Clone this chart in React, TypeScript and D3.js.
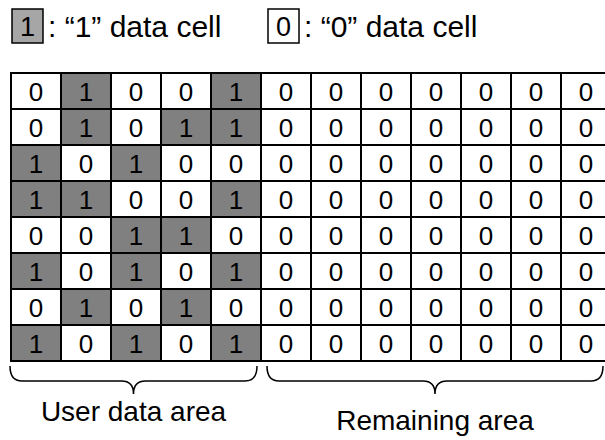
import React from "react";
import * as d3 from "d3";

const userGrid: number[][] = [
  [0, 1, 0, 0, 1],
  [0, 1, 0, 1, 1],
  [1, 0, 1, 0, 0],
  [1, 1, 0, 0, 1],
  [0, 0, 1, 1, 0],
  [1, 0, 1, 0, 1],
  [0, 1, 0, 1, 0],
  [1, 0, 1, 0, 1],
];
const remainingCols = 7;
const legendItems = [
  { value: 1, label: ": \u201c1\u201d data cell" },
  { value: 0, label: ": \u201c0\u201d data cell" },
];
const areaLabels = ["User data area", "Remaining area"];

const W = 605;
const H = 440;
const FONT = "'Liberation Sans', Arial, sans-serif";

export default function App() {
  const nRows = userGrid.length;
  const nUser = userGrid[0].length;
  const nCols = nUser + remainingCols;
  const cells: { r: number; c: number; v: number }[] = [];
  userGrid.forEach((row, r) => {
    for (let c = 0; c < nCols; c++) {
      cells.push({ r, c, v: c < nUser ? row[c] : 0 });
    }
  });

  const x = d3.scaleBand<number>().domain(d3.range(nCols)).range([11, 11 + 50 * nCols]).padding(0);
  const y = d3.scaleBand<number>().domain(d3.range(nRows)).range([73, 73 + 36 * nRows]).padding(0);
  const bw = x.bandwidth();
  const bh = y.bandwidth();
  const gridBottom = y.range()[1];

  const brace = (a: number, b: number, c: number) => {
    const yt = gridBottom + 5;
    const ym = gridBottom + 20;
    const yb = gridBottom + 33;
    const r = 12;
    return `M${a},${yt} Q${a},${ym} ${a + r},${ym} L${c - r},${ym} Q${c},${ym} ${c},${yb} Q${c},${ym} ${c + r},${ym} L${b - r},${ym} Q${b},${ym} ${b},${yt}`;
  };

  const userA = x(0)! - 1;
  const userB = x(nUser - 1)! + bw - 4;
  const remA = x(nUser)! + 6;
  const remB = 603;

  const legendX = [12, 268];

  return (
    <svg width={W} height={H} style={{ position: "absolute", left: 0, top: 0, background: "#fff" }} fontFamily={FONT}>
      {legendItems.map((it, i) => (
        <g key={i} transform={`translate(${legendX[i]},9)`}>
          <rect x={0} y={0} width={31} height={34} fill={it.value ? "#a6a6a6" : "#fff"} stroke="#000" strokeWidth={1.5} />
          <text x={15.5} y={27} textAnchor="middle" fontSize={27} fill="#000">{it.value}</text>
          <text x={36} y={28} fontSize={30} fill="#000">{it.label}</text>
        </g>
      ))}
      <g>
        {cells.map((d, i) => (
          <rect key={i} x={x(d.c)} y={y(d.r)} width={bw} height={bh} fill={d.v ? "#808080" : "#fff"} />
        ))}
        {d3.range(nRows + 1).map((r) => (
          <line key={"h" + r} x1={x(0)} x2={x(0)! + bw * nCols} y1={y.range()[0] + r * bh} y2={y.range()[0] + r * bh} stroke="#000" strokeWidth={2} />
        ))}
        {d3.range(nCols + 1).map((c) => (
          <line key={"v" + c} x1={x(0)! + c * bw} x2={x(0)! + c * bw} y1={y.range()[0] - 1} y2={gridBottom + 1} stroke="#000" strokeWidth={2} />
        ))}
        {cells.map((d, i) => (
          <text key={"t" + i} x={x(d.c)! + bw / 2} y={y(d.r)! + bh / 2 + 9.5} textAnchor="middle" fontSize={26} fill="#000">{d.v}</text>
        ))}
      </g>
      <path d={brace(userA, userB, (userA + userB) / 2)} fill="none" stroke="#000" strokeWidth={1.5} />
      <path d={brace(remA, remB, (remA + remB) / 2)} fill="none" stroke="#000" strokeWidth={1.5} />
      <text x={(userA + userB) / 2} y={421} textAnchor="middle" fontSize={28} fill="#000">{areaLabels[0]}</text>
      <text x={(remA + remB) / 2} y={430} textAnchor="middle" fontSize={28} fill="#000">{areaLabels[1]}</text>
    </svg>
  );
}
